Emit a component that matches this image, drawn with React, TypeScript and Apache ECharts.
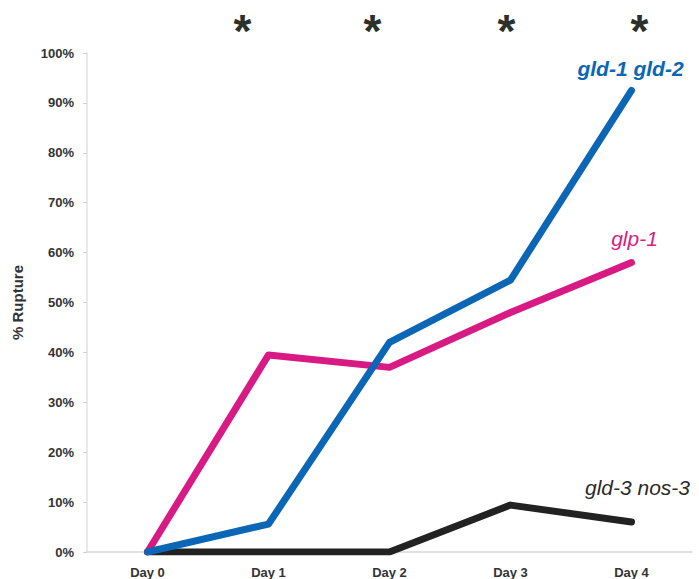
import React, { useEffect, useRef } from "react";
import * as echarts from "echarts";

const days = ["Day 0", "Day 1", "Day 2", "Day 3", "Day 4"];
const gld1gld2 = [0, 5.6, 42, 54.5, 92.5];
const glp1 = [0, 39.5, 37, 48, 58];
const gld3nos3 = [0, 0, 0, 9.4, 6];
const yTicks = [0, 10, 20, 30, 40, 50, 60, 70, 80, 90, 100];
const significantDays = ["Day 1", "Day 2", "Day 3", "Day 4"];

export default function App() {
  const ref = useRef<HTMLDivElement>(null);

  useEffect(() => {
    if (!ref.current) return;
    const chart = echarts.init(ref.current, null, { renderer: "svg" });

    const lineSeries = (
      name: string,
      data: number[],
      color: string,
      textColor: string,
      weight: string,
      dx: number,
      dy: number
    ) => ({
      name,
      type: "line",
      data,
      symbol: "none",
      lineStyle: { color, width: 7, cap: "round", join: "round" },
      itemStyle: { color },
      endLabel: {
        show: true,
        formatter: name,
        distance: 0,
        offset: [dx, dy],
        align: "center",
        verticalAlign: "bottom",
        color: textColor,
        fontSize: 21,
        fontStyle: "italic",
        fontWeight: weight,
        fontFamily: "Liberation Sans, Arial, sans-serif",
      },
      z: 3,
    });

    chart.setOption({
      animation: false,
      backgroundColor: "#ffffff",
      grid: { left: 87, right: 7, top: 53, bottom: 27, containLabel: false },
      xAxis: {
        type: "category",
        data: days,
        boundaryGap: true,
        axisLine: { show: true, lineStyle: { color: "#d8d8d8", width: 1.5 } },
        axisTick: { show: false },
        axisLabel: {
          color: "#333",
          fontSize: 13,
          fontWeight: "bold",
          fontFamily: "Liberation Sans, Arial, sans-serif",
          margin: 14,
        },
        splitLine: { show: false },
      },
      yAxis: {
        type: "value",
        min: 0,
        max: 100,
        interval: 10,
        name: "% Rupture",
        nameLocation: "middle",
        nameGap: 62,
        nameRotate: 90,
        nameTextStyle: {
          color: "#333",
          fontSize: 15,
          fontWeight: "bold",
          fontFamily: "Liberation Sans, Arial, sans-serif",
        },
        axisLine: { show: true, lineStyle: { color: "#e0e0e0", width: 1.5 } },
        axisTick: { show: true, length: 4, lineStyle: { color: "#d0d0d0" } },
        axisLabel: {
          color: "#333",
          fontSize: 13,
          fontWeight: "bold",
          fontFamily: "Liberation Sans, Arial, sans-serif",
          margin: 13,
          formatter: (v: number) => (yTicks.includes(v) ? v + "%" : ""),
        },
        splitLine: { show: false },
      },
      series: [
        lineSeries("gld-3 nos-3", gld3nos3, "#222222", "#2a2a2a", "normal", 6, -24),
        lineSeries("glp-1", glp1, "#d81b84", "#d81b84", "normal", 3, -14),
        lineSeries("gld-1 gld-2", gld1gld2, "#0b67b5", "#0b67b5", "bold", -1, -11),
      ],
    });

    const asteriskOffsets = [-26, -17, -4, 8];
    const graphics = significantDays.map((d, i) => {
      const x = chart.convertToPixel({ xAxisIndex: 0 }, d) as number;
      return {
        type: "text",
        x: x + asteriskOffsets[i],
        y: 31,
        style: {
          text: "*",
          fill: "#2b302b",
          font: "bold 46px Liberation Sans, Arial, sans-serif",
          align: "center",
          verticalAlign: "middle",
        },
      };
    });
    chart.setOption({ graphic: graphics });

    return () => chart.dispose();
  }, []);

  return <div ref={ref} style={{ width: 699, height: 579, position: "absolute", left: 0, top: 0 }} />;
}
